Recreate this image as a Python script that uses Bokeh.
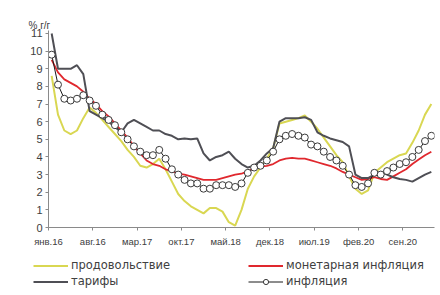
from bokeh.plotting import figure
from bokeh.layouts import column, row
from bokeh.models import Legend, LegendItem, FixedTicker, Range1d
from bokeh.embed import file_html
from bokeh.resources import INLINE

# Monthly data, Jan 2016 .. Jan 2021 (% y/y)
tick_labels = ["янв.16", "авг.16", "мар.17", "окт.17", "май.18",
               "дек.18", "июл.19", "фев.20", "сен.20"]

food = [8.6, 6.4, 5.5, 5.3, 5.5, 6.2, 6.8, 6.5, 6.1, 5.7, 5.3, 4.9,
        4.4, 4.0, 3.5, 3.4, 3.6, 3.9, 3.3, 2.6, 1.9, 1.5, 1.2, 1.0,
        0.8, 1.1, 1.1, 0.9, 0.3, 0.1, 1.0, 2.2, 2.9, 3.4, 3.9, 4.5,
        5.9, 6.0, 6.1, 6.2, 6.35, 6.0, 5.6, 5.1, 4.6, 4.1, 3.7, 2.9,
        2.2, 1.9, 2.1, 3.1, 3.4, 3.7, 3.9, 4.1, 4.2, 4.8, 5.5, 6.4,
        7.0]

monetary = [9.5, 8.8, 8.4, 8.2, 8.0, 7.7, 7.3, 7.0, 6.6, 6.3, 5.9, 5.5,
            5.1, 4.6, 4.2, 3.8, 3.6, 3.5, 3.3, 3.2, 3.05, 3.0, 2.9, 2.8,
            2.7, 2.7, 2.7, 2.8, 2.9, 3.0, 3.05, 3.2, 3.35, 3.45, 3.5, 3.6,
            3.8, 3.9, 3.95, 3.9, 3.9, 3.8, 3.7, 3.6, 3.5, 3.35, 3.15, 3.0,
            2.85, 2.7, 2.75, 2.85, 2.75, 2.7, 2.9, 3.1, 3.3, 3.6, 3.85, 4.1,
            4.3]

tariffs = [11.0, 9.0, 9.0, 9.0, 9.2, 8.7, 6.6, 6.4, 6.2, 6.0, 5.7, 5.4,
           5.9, 6.1, 5.9, 5.7, 5.5, 5.5, 5.3, 5.2, 5.0, 5.05, 5.0, 5.05,
           4.2, 3.8, 4.0, 4.1, 4.3, 3.9, 3.6, 3.4, 3.5, 3.8, 4.2, 4.5,
           6.0, 6.2, 6.2, 6.2, 6.25, 6.1, 5.4, 5.2, 5.05, 4.95, 4.85, 4.6,
           3.0, 2.8, 2.8, 3.0, 3.15, 3.0, 2.85, 2.75, 2.7, 2.6, 2.8, 3.0,
           3.15]

inflation = [9.8, 8.1, 7.3, 7.2, 7.3, 7.5, 7.2, 6.9, 6.4, 6.1, 5.8, 5.4,
             5.0, 4.6, 4.3, 4.1, 4.1, 4.4, 3.9, 3.3, 3.0, 2.7, 2.5, 2.5,
             2.2, 2.2, 2.4, 2.4, 2.4, 2.3, 2.5, 3.1, 3.4, 3.5, 3.8, 4.3,
             5.0, 5.2, 5.3, 5.2, 5.1, 4.7, 4.6, 4.3, 4.0, 3.8, 3.5, 3.0,
             2.4, 2.3, 2.5, 3.1, 3.0, 3.2, 3.4, 3.6, 3.7, 4.0, 4.4, 4.9,
             5.2]

x = list(range(len(inflation)))
n = len(x)

TXT = "#404040"
AX = "#8a8a8a"

STY_FOOD = dict(line_color="#d9d752", line_width=2)
STY_MON = dict(line_color="#e0282e", line_width=1.8)
STY_TAR = dict(line_color="#4f4f55", line_width=2)
STY_INF_L = dict(line_color="#1a1a1a", line_width=1)
STY_INF_M = dict(size=7, marker="circle", fill_color="white",
                 line_color="#3a3a3a", line_width=1)

p = figure(width=440, height=250, output_backend="svg", toolbar_location=None,
           x_range=Range1d(-0.5, n - 0.5), y_range=Range1d(0, 11.17),
           min_border_left=48, min_border_right=6, min_border_top=30,
           min_border_bottom=23, title="% г/г")
p.outline_line_color = None
p.xgrid.visible = False
p.ygrid.visible = False

p.title.align = "left"
p.title.offset = -20
p.title.standoff = 0
p.title.text_font = "Liberation Sans"
p.title.text_font_size = "10px"
p.title.text_font_style = "normal"
p.title.text_color = TXT

xticks = [7 * k - 0.5 for k in range(len(tick_labels))]
p.xaxis.ticker = FixedTicker(ticks=xticks)
p.xaxis.major_label_overrides = {t: lab for t, lab in zip(xticks, tick_labels)}
p.yaxis.ticker = FixedTicker(ticks=list(range(0, 12)))

for ax in (p.xaxis, p.yaxis):
    ax.axis_line_color = AX
    ax.major_tick_line_color = AX
    ax.minor_tick_line_color = None
    ax.major_tick_out = 3
    ax.major_tick_in = 0
    ax.major_label_text_color = TXT
    ax.major_label_text_font = "Liberation Sans"
p.xaxis.major_label_text_font_size = "9.5px"
p.yaxis.major_label_text_font_size = "11px"
p.xaxis.major_label_standoff = 5
p.yaxis.major_label_standoff = 3

p.line(x, food, **STY_FOOD)
p.line(x, monetary, **STY_MON)
p.line(x, tariffs, **STY_TAR)
p.line(x, inflation, **STY_INF_L)
p.scatter(x, inflation, **STY_INF_M)

# legend strip below the chart (series drawn out of view, used as legend keys)
q = figure(width=440, height=45, output_backend="svg", toolbar_location=None,
           x_range=Range1d(1000, 1001), y_range=Range1d(1000, 1001),
           min_border=0, x_axis_location=None, y_axis_location=None)
q.outline_line_color = None
q.xgrid.visible = False
q.ygrid.visible = False

l_food = q.line(x, food, **STY_FOOD)
l_tar = q.line(x, tariffs, **STY_TAR)
l_mon = q.line(x, monetary, **STY_MON)
l_inf_l = q.line(x, inflation, **STY_INF_L)
l_inf_m = q.scatter(x, inflation, **STY_INF_M)


def make_legend(items, loc):
    lg = Legend(items=items, location=loc, orientation="vertical")
    lg.padding = 0
    lg.margin = 0
    lg.spacing = 2
    lg.glyph_width = 35
    lg.glyph_height = 13
    lg.label_height = 13
    lg.label_standoff = 3
    lg.label_text_font = "DejaVu Sans"
    lg.label_text_font_size = "11.5px"
    lg.label_text_color = TXT
    lg.background_fill_alpha = 0
    lg.border_line_alpha = 0
    return lg


q.add_layout(make_legend([LegendItem(label="продовольствие", renderers=[l_food]),
                          LegendItem(label="тарифы", renderers=[l_tar])], (33, 7)))
q.add_layout(make_legend([LegendItem(label="монетарная инфляция", renderers=[l_mon]),
                          LegendItem(label="инфляция", renderers=[l_inf_l, l_inf_m])], (248, 7)))

open("out.html", "w").write(file_html(column(p, row(q), spacing=0), INLINE))
